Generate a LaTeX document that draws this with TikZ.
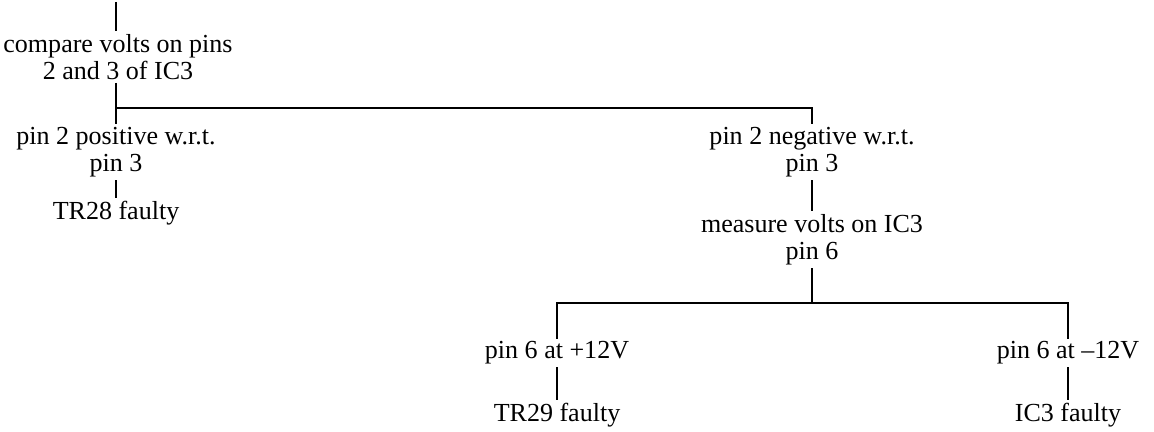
\documentclass[tikz,border=0pt]{standalone}
\usepackage{fontspec}
\setmainfont{Liberation Serif}
\begin{document}
\begin{tikzpicture}[x=0.0162cm, y=-0.0162cm, line width=0.8pt,
        stepbox/.style={align=center, inner xsep=0pt, inner ysep=1pt, font=\fontsize{12}{12.6}\selectfont}]
        \useasboundingbox (0,0) rectangle (1154,432);
        \coordinate (top)  at (116,2);
        \node[stepbox] (cmp)  at (118,57)   {compare volts on pins\\2 and 3 of IC3};
        \node[stepbox] (pos)  at (116,152)  {pin 2 positive w.r.t.\\pin 3};
        \node[stepbox] (tr28) at (116,213)  {TR28 faulty};
        \node[stepbox] (neg)  at (812,152)  {pin 2 negative w.r.t.\\pin 3};
        \node[stepbox] (meas) at (812,240)  {measure volts on IC3\\pin 6};
        \node[stepbox] (p12)  at (557,353)  {pin 6 at +12V};
        \node[stepbox] (m12)  at (1068,353) {pin 6 at --12V};
        \node[stepbox] (tr29) at (557,415)  {TR29 faulty};
        \node[stepbox] (ic3)  at (1068,415) {IC3 faulty};
        \coordinate (bar1) at (116,108);
        \coordinate (bar2) at (812,303);

        \draw (top)--(top|-cmp.north) (cmp.south-|top)--(pos) (bar1)-|(neg) (pos)--(tr28) (neg)--(meas);
        \draw (meas)--(bar2) (p12)|-(bar2)-|(m12) (p12)--(tr29) (m12)--(ic3);
        \end{tikzpicture}
\end{document}
